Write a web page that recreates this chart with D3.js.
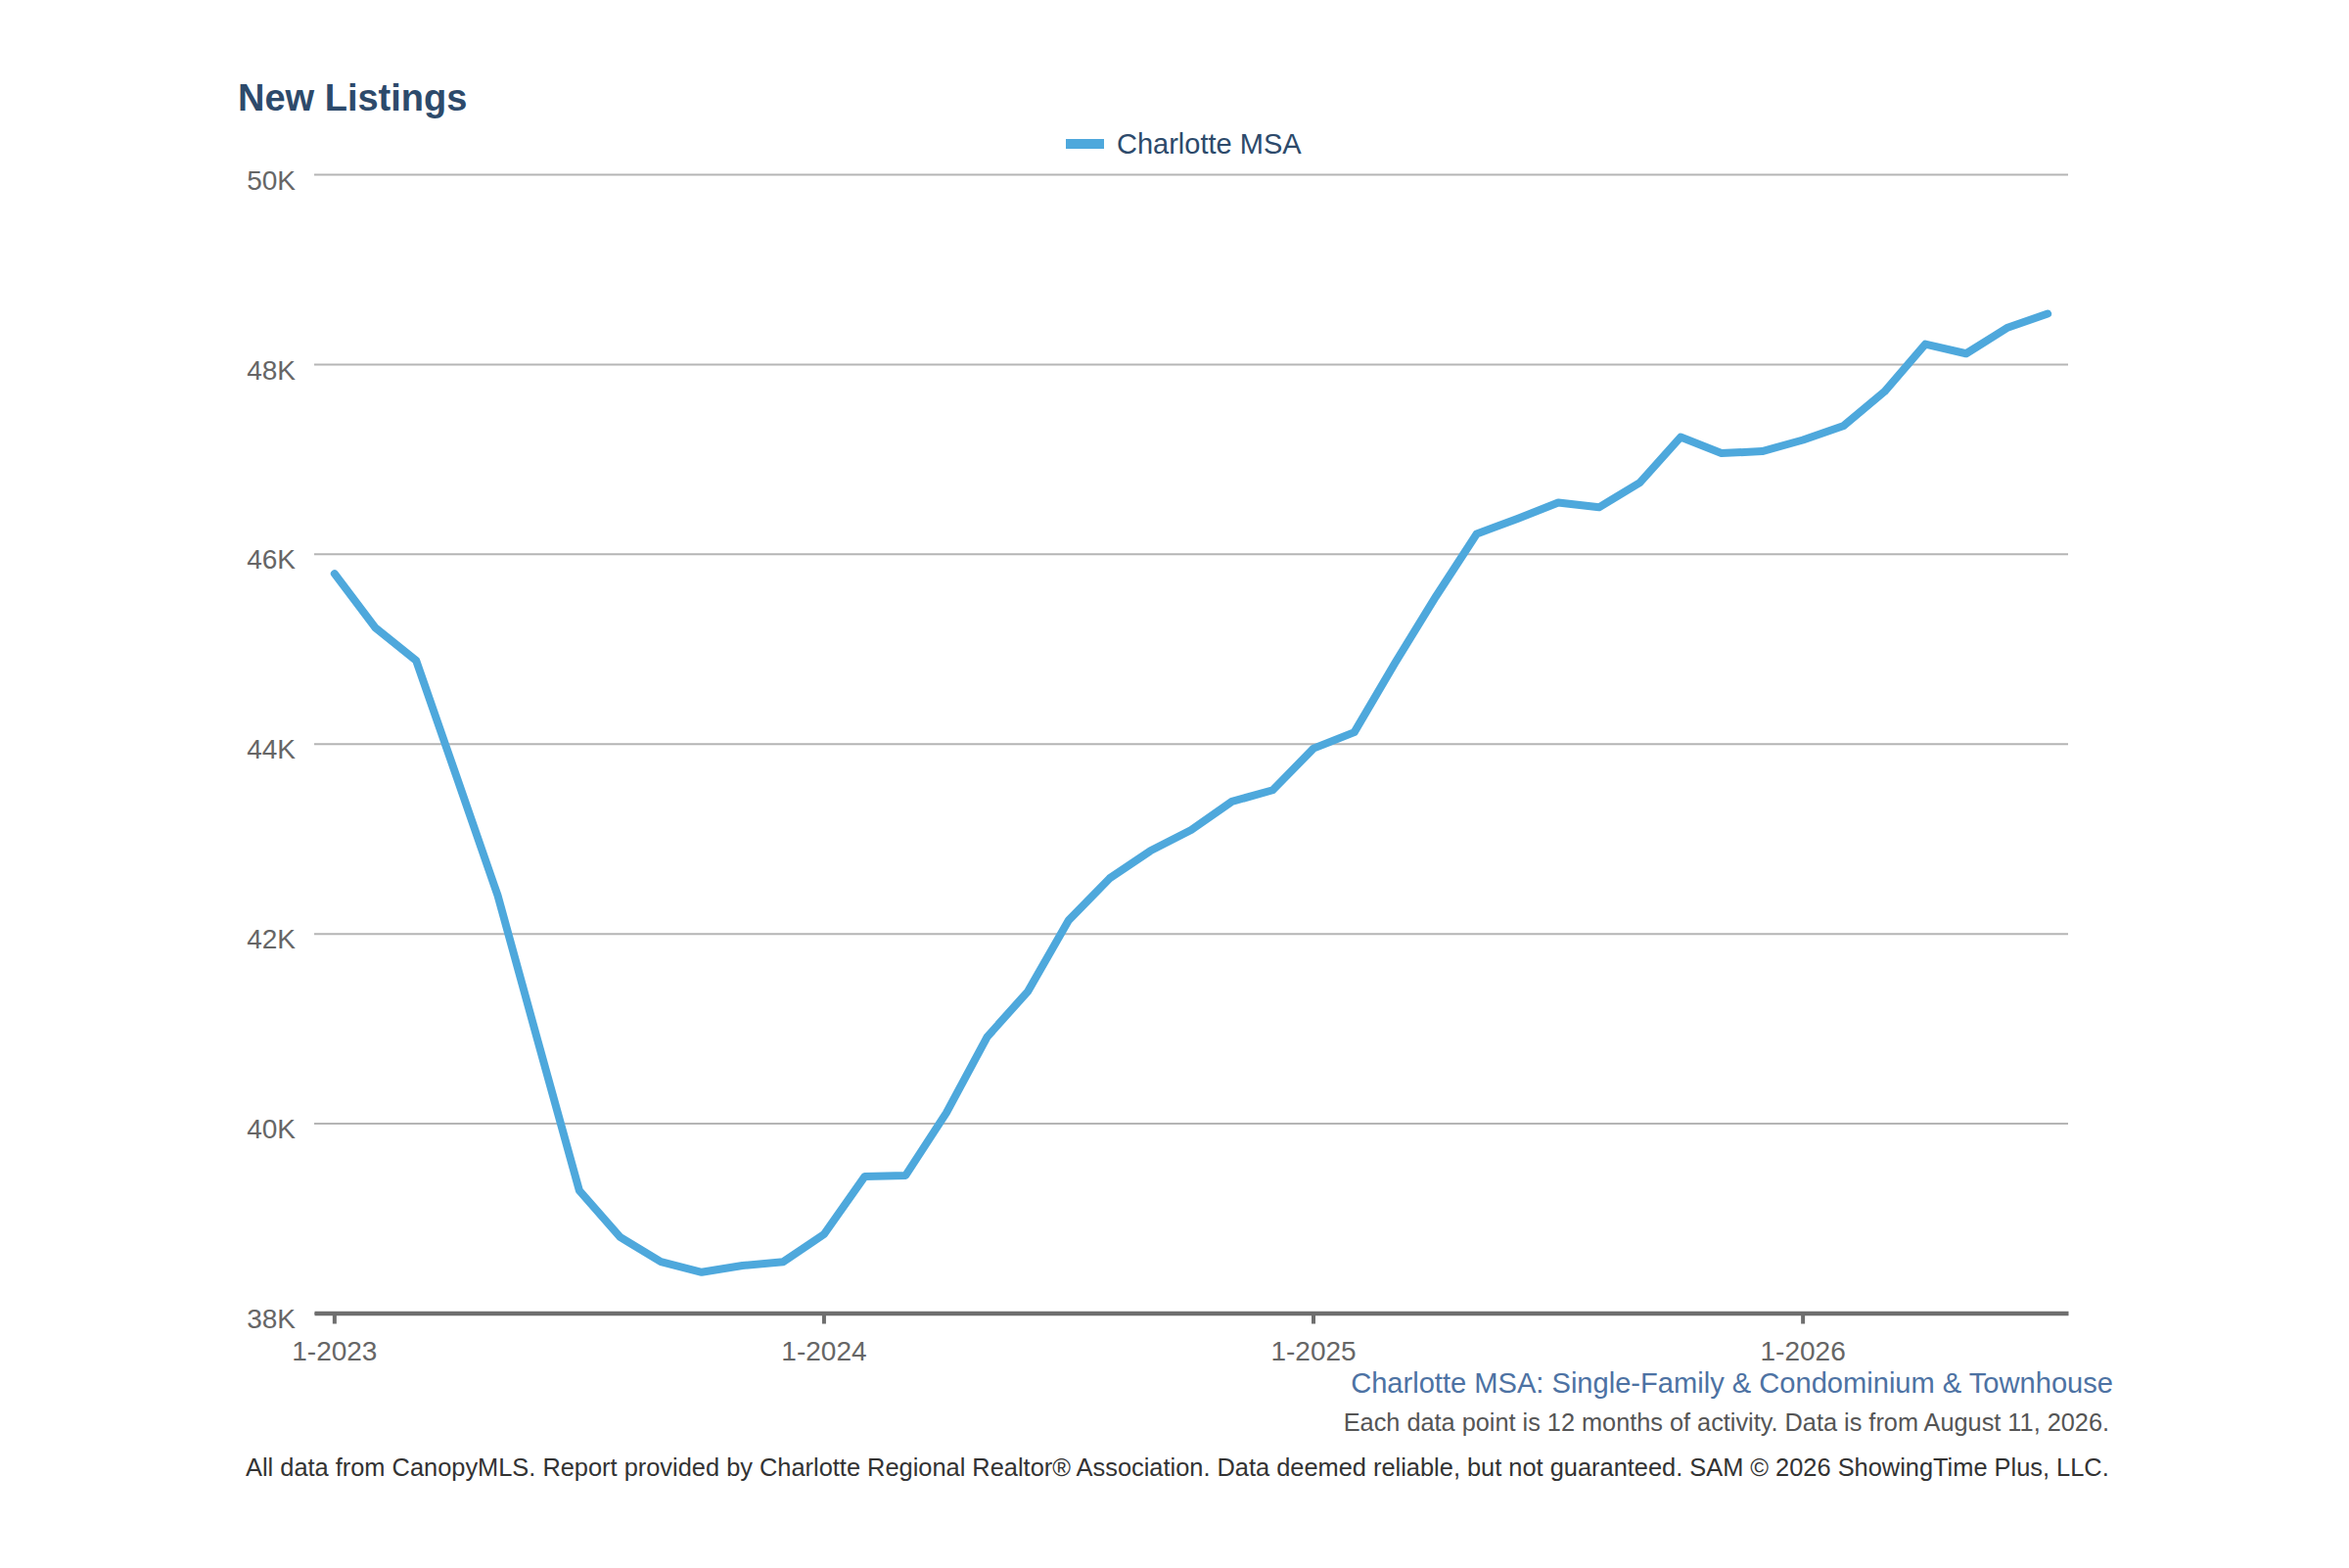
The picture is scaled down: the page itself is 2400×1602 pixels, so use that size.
<!DOCTYPE html>
<html>
<head>
<meta charset="utf-8">
<script src="https://cdn.jsdelivr.net/npm/d3@7"></script>
<style>
  body { margin: 0; background: #fff; }
  svg text { font-family: "Liberation Sans", Arial, sans-serif; }
</style>
</head>
<body>
<script>
// rolling 12-month new listings, Charlotte MSA
var months = [
  "1-2023","2-2023","3-2023","4-2023","5-2023","6-2023","7-2023","8-2023","9-2023","10-2023","11-2023","12-2023",
  "1-2024","2-2024","3-2024","4-2024","5-2024","6-2024","7-2024","8-2024","9-2024","10-2024","11-2024","12-2024",
  "1-2025","2-2025","3-2025","4-2025","5-2025","6-2025","7-2025","8-2025","9-2025","10-2025","11-2025","12-2025",
  "1-2026","2-2026","3-2026","4-2026","5-2026","6-2026","7-2026"
];
var charlotte = [
  45790, 45220, 44875, 43640, 42400, 40840, 39290, 38800, 38540, 38430, 38500, 38540,
  38830, 39440, 39450, 40110, 40910, 41390, 42140, 42580, 42870, 43090, 43390, 43510,
  43950, 44120, 44850, 45550, 46210, 46370, 46540, 46490, 46750, 47230, 47060, 47080,
  47200, 47350, 47710, 48210, 48110, 48380, 48530
];
var yTicks = [38000, 40000, 42000, 44000, 46000, 48000, 50000];
var xTicks = ["1-2023", "1-2024", "1-2025", "1-2026"];

var W = 2400, H = 1602;
var plotLeft = 321, plotRight = 2113, plotTop = 178, plotBottom = 1341.5;
var blue = "#4ea8dc";

var svg = d3.select("body").append("svg")
    .attr("width", W)
    .attr("height", H);

var x = d3.scaleBand().domain(months).range([plotLeft, plotRight]).padding(0);
var y = d3.scaleLinear().domain([38000, 50000]).range([plotBottom, plotTop]);

// grid + y labels
var yAxis = svg.append("g")
    .attr("transform", "translate(" + plotLeft + ",0)")
    .call(d3.axisLeft(y)
        .tickValues(yTicks)
        .tickSize(-(plotRight - plotLeft))
        .tickPadding(19)
        .tickFormat(function (d) { return (d / 1000) + "K"; }));
yAxis.select(".domain").remove();
yAxis.selectAll(".tick line")
    .attr("stroke", "#b5b5b5")
    .attr("stroke-width", 2);
yAxis.selectAll(".tick text")
    .attr("fill", "#666")
    .attr("font-size", 28)
    .attr("dy", "0.54em");

// x axis
var xAxis = svg.append("g")
    .attr("transform", "translate(0," + plotBottom + ")")
    .call(d3.axisBottom(x)
        .tickValues(xTicks)
        .tickSize(11)
        .tickSizeOuter(0)
        .tickPadding(18));
xAxis.select(".domain")
    .attr("stroke", "#6e6e6e")
    .attr("stroke-width", 4.5);
xAxis.selectAll(".tick line")
    .attr("stroke", "#6e6e6e")
    .attr("stroke-width", 4);
xAxis.selectAll(".tick text")
    .attr("fill", "#666")
    .attr("font-size", 28);

// line
var line = d3.line()
    .x(function (d, i) { return x(months[i]) + x.bandwidth() / 2; })
    .y(function (d) { return y(d); });

svg.append("path")
    .datum(charlotte)
    .attr("d", line)
    .attr("fill", "none")
    .attr("stroke", blue)
    .attr("stroke-width", 8)
    .attr("stroke-linecap", "round")
    .attr("stroke-linejoin", "round");

// title
svg.append("text")
    .attr("x", 243)
    .attr("y", 113)
    .attr("font-size", 38)
    .attr("font-weight", "bold")
    .attr("fill", "#2d4a6b")
    .text("New Listings");

// legend
svg.append("rect")
    .attr("x", 1089)
    .attr("y", 142)
    .attr("width", 39)
    .attr("height", 10)
    .attr("fill", blue);
svg.append("text")
    .attr("x", 1141)
    .attr("y", 157)
    .attr("font-size", 29)
    .attr("fill", "#2d4a6b")
    .text("Charlotte MSA");

// footer notes
svg.append("text")
    .attr("x", 2159)
    .attr("y", 1423)
    .attr("text-anchor", "end")
    .attr("font-size", 29.1)
    .attr("fill", "#4d72a3")
    .text("Charlotte MSA: Single-Family & Condominium & Townhouse");
svg.append("text")
    .attr("x", 2155)
    .attr("y", 1462)
    .attr("text-anchor", "end")
    .attr("font-size", 25.3)
    .attr("fill", "#555")
    .text("Each data point is 12 months of activity. Data is from August 11, 2026.");
svg.append("text")
    .attr("x", 251)
    .attr("y", 1508)
    .attr("font-size", 25.4)
    .attr("fill", "#333")
    .text("All data from CanopyMLS. Report provided by Charlotte Regional Realtor\u00ae Association. Data deemed reliable, but not guaranteed. SAM \u00a9 2026 ShowingTime Plus, LLC.");
</script>
</body>
</html>
